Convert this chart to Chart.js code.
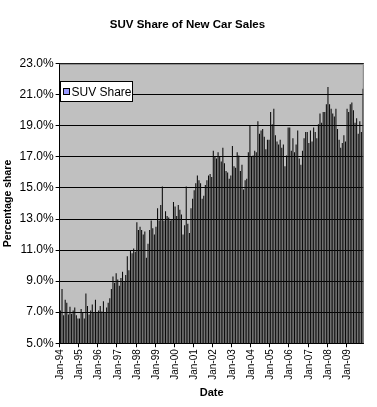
<!DOCTYPE html>
<html>
<head>
<meta charset="utf-8">
<script src="https://cdn.jsdelivr.net/npm/chart.js@4/dist/chart.umd.min.js"></script>
<style>
  html, body { margin: 0; padding: 0; background: #fff; }
  #wrap { width: 377px; height: 407px; position: relative; }
</style>
</head>
<body>
<div id="wrap"><canvas id="suvChart"></canvas></div>
<script>
// categorias: meses de Jan-94 a Nov-09
const yearCodes = ['94', '95', '96', '97', '98', '99', '00', '01', '02', '03', '04', '05', '06', '07', '08', '09'];
const monthNames = ['Jan', 'Feb', 'Mar', 'Apr', 'May', 'Jun', 'Jul', 'Aug', 'Sep', 'Oct', 'Nov', 'Dec'];

// valores (%), um ano por linha
const suvShare = [
    7.1, 8.5, 6.8, 7.8, 7.6, 6.85, 7.35, 6.9, 7.1, 7.3, 6.8, 6.6,
    6.6, 7.2, 7.0, 6.6, 8.2, 7.4, 6.85, 7.1, 7.5, 7.0, 7.8, 7.0,
    7.1, 7.4, 7.05, 7.7, 7.0, 7.3, 7.6, 7.9, 8.5, 9.3, 8.9, 9.5,
    9.1, 8.7, 9.2, 9.6, 9.0, 9.4, 10.6, 9.7, 11.0, 10.8, 11.1, 10.9,
    12.8, 12.3, 12.5, 12.3, 12.0, 12.2, 10.5, 11.4, 12.3, 12.9, 12.4, 12.0,
    12.5, 13.7, 12.9, 13.9, 15.1, 12.9, 13.5, 13.2, 13.1, 12.9, 13.0, 14.1,
    13.8, 13.2, 13.9, 13.6, 13.3, 12.0, 12.6, 15.1, 12.7, 12.1, 13.7, 14.3,
    14.85, 15.3, 15.8, 15.5, 15.3, 14.3, 14.5, 15.2, 15.5, 15.8, 15.9, 15.7,
    17.4, 17.0, 16.9, 17.3, 17.0, 16.7, 17.6, 16.6, 16.1, 16.0, 15.6, 15.8,
    17.7, 16.4, 16.3, 17.3, 17.1, 16.1, 16.5, 14.9, 15.5, 15.6, 17.3, 19.0,
    17.0, 17.1, 17.4, 17.3, 19.3, 18.5, 18.7, 18.8, 18.3, 17.5, 18.1, 18.1,
    19.9, 19.1, 20.1, 18.4, 18.0, 17.8, 18.1, 17.6, 17.8, 16.4, 17.1, 18.9,
    18.9, 17.4, 18.2, 17.3, 17.8, 18.7, 16.9, 16.5, 17.4, 18.2, 18.6, 18.6,
    17.9, 18.7, 18.0, 18.9, 18.6, 18.2, 19.1, 19.8, 19.2, 19.9, 19.9, 20.4,
    21.5, 20.4, 20.1, 19.8, 19.6, 20.1, 18.8, 18.1, 17.6, 17.9, 18.4, 18.0,
    20.1, 19.9, 20.4, 20.5, 20.0, 19.2, 19.5, 18.5, 19.3, 18.6, 21.4
];

const yMin = 5, yMax = 23, yStep = 2;

const labels = [];
yearCodes.forEach(function (y) {
    monthNames.forEach(function (m) { labels.push(m + '-' + y); });
});
labels.length = suvShare.length;

const FONT = 'Arial, "Liberation Sans", sans-serif';

// fundo cinza da área do gráfico + legenda dentro da área
const plotArea = {
    id: 'plotArea',
    beforeDraw(chart) {
        const { ctx, chartArea: a } = chart;
        ctx.save();
        ctx.fillStyle = '#C0C0C0';
        ctx.fillRect(a.left, a.top, a.right - a.left, a.bottom - a.top);
        ctx.restore();
    },
    afterDraw(chart) {
        const { ctx, chartArea: a } = chart;
        ctx.save();
        ctx.strokeStyle = '#808080';
        ctx.lineWidth = 1;
        ctx.beginPath();
        ctx.moveTo(a.left, a.top + 0.5);
        ctx.lineTo(a.right - 0.5, a.top + 0.5);
        ctx.lineTo(a.right - 0.5, a.bottom);
        ctx.stroke();

        // legenda
        const x = Math.round(a.left) + 0.5, y = Math.round(a.top) + 17.5;
        ctx.fillStyle = '#fff';
        ctx.fillRect(x, y, 72, 20);
        ctx.strokeStyle = '#000';
        ctx.strokeRect(x, y, 72, 20);
        ctx.fillStyle = '#9999FF';
        ctx.fillRect(x + 3, y + 7, 6, 6);
        ctx.strokeRect(x + 3, y + 7, 6, 6);
        ctx.fillStyle = '#000';
        ctx.font = '12px ' + FONT;
        ctx.textBaseline = 'middle';
        ctx.fillText('SUV Share', x + 11, y + 11);
        ctx.restore();
    }
};

new Chart(document.getElementById('suvChart'), {
    type: 'bar',
    data: {
        labels: labels,
        datasets: [{
            label: 'SUV Share',
            data: suvShare,
            backgroundColor: '#0a0a0a',
            borderWidth: 0,
            barPercentage: 0.66,
            categoryPercentage: 1.0
        }]
    },
    options: {
        responsive: true,
        maintainAspectRatio: false,
        animation: false,
        layout: { padding: { left: 0, right: 2, top: 0, bottom: 7 } },
        scales: {
            x: {
                grid: {
                    drawOnChartArea: false,
                    drawTicks: true,
                    tickLength: 4,
                    color: function (c) { return c.index % 12 === 0 ? '#000' : 'rgba(0,0,0,0)'; }
                },
                border: { color: '#000' },
                ticks: {
                    autoSkip: false,
                    minRotation: 90,
                    maxRotation: 90,
                    padding: 2,
                    color: '#000',
                    font: { family: FONT, size: 10 },
                    callback: function (value, index) { return index % 12 === 0 ? this.getLabelForValue(value) : ''; }
                },
                title: {
                    display: true,
                    text: 'Date',
                    color: '#000',
                    font: { family: FONT, size: 11, weight: 'bold' },
                    padding: { top: 5, bottom: 0 }
                }
            },
            y: {
                min: yMin,
                max: yMax,
                grid: { color: '#000', tickLength: 4 },
                border: { color: '#000' },
                ticks: {
                    stepSize: yStep,
                    padding: 2,
                    color: '#000',
                    font: { family: FONT, size: 12 },
                    callback: function (value) { return value.toFixed(1) + '%'; }
                },
                title: {
                    display: true,
                    text: 'Percentage share',
                    color: '#000',
                    font: { family: FONT, size: 10.5, weight: 'bold' },
                    padding: { top: 2, bottom: 3 }
                }
            }
        },
        plugins: {
            legend: { display: false },
            tooltip: { enabled: false },
            title: {
                display: true,
                text: 'SUV Share of New Car Sales',
                color: '#000',
                font: { family: FONT, size: 11.5, weight: 'bold' },
                padding: { top: 18, bottom: 32 }
            }
        }
    },
    plugins: [plotArea]
});
</script>
</body>
</html>
